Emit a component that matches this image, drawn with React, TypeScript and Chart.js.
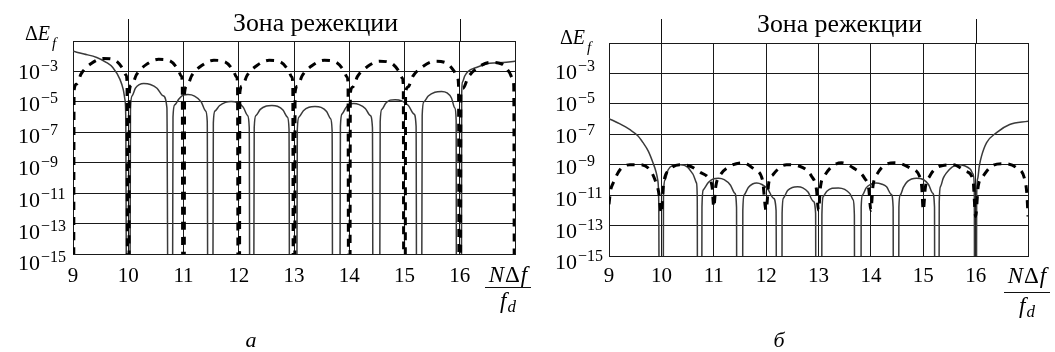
import React, { useEffect, useRef } from "react";
import { Chart, registerables } from "chart.js";

Chart.register(...registerables);

const FLOOR = 1e-20;
const SERIF = '"Liberation Serif", "Times New Roman", serif';

const xTicks = [9, 10, 11, 12, 13, 14, 15, 16];
const yTickExponents = [-3, -5, -7, -9, -11, -13, -15];
const yGridValues = [1e-15, 1e-13, 1e-11, 1e-9, 1e-7, 1e-5, 1e-3, 1e-1];
const zoneBounds = [10, 16];
const zoneTitle = "Зона режекции";
const panelLabels = ["а", "б"];

// ---------- panel а : solid curve ----------
const aSolidX = [
  9.0, 9.2, 9.43, 9.6, 9.72, 9.85, 9.91, 9.94, 9.955, 9.97,
  10.03, 10.04, 10.07, 10.13, 10.2, 10.28, 10.4, 10.52, 10.63, 10.7, 10.72,
  10.8, 10.81, 10.84, 10.92, 11.0, 11.08, 11.2, 11.32, 11.4, 11.43, 11.44,
  11.53, 11.54, 11.57, 11.65, 11.76, 11.86, 11.97, 12.08, 12.16, 12.19, 12.2,
  12.27, 12.28, 12.31, 12.39, 12.5, 12.6, 12.7, 12.8, 12.88, 12.91, 12.92,
  13.05, 13.06, 13.09, 13.17, 13.27, 13.38, 13.49, 13.59, 13.66, 13.69, 13.7,
  13.83, 13.84, 13.87, 13.94, 14.0, 14.08, 14.18, 14.29, 14.38, 14.42, 14.43,
  14.55, 14.56, 14.59, 14.66, 14.74, 14.83, 14.95, 15.07, 15.17, 15.21, 15.22,
  15.31, 15.32, 15.35, 15.43, 15.55, 15.67, 15.77, 15.85, 15.91, 15.935, 15.94,
  16.03, 16.035, 16.05, 16.09, 16.15, 16.3, 16.54, 16.78, 17.0,
];
const aSolidY = [
  2.1e-2, 1.4e-2, 8.3e-3, 4e-3, 1.8e-3, 3e-4, 6.3e-5, 1.4e-5, 1e-6, FLOOR,
  FLOOR, 3.2e-6, 2.5e-5, 7.9e-5, 1.35e-4, 1.6e-4, 1.4e-4, 7.9e-5, 2.5e-5, 4e-6, FLOOR,
  FLOOR, 1e-6, 6.3e-6, 1.6e-5, 2.8e-5, 3e-5, 2.4e-5, 1e-5, 2.5e-6, 5e-7, FLOOR,
  FLOOR, 4e-7, 2.5e-6, 5.5e-6, 9.3e-6, 1.05e-5, 9e-6, 4.5e-6, 1.26e-6, 2e-7, FLOOR,
  FLOOR, 2e-7, 1.26e-6, 3.2e-6, 5.3e-6, 5.8e-6, 5.1e-6, 2.9e-6, 1e-6, 1.6e-7, FLOOR,
  FLOOR, 1.6e-7, 1e-6, 2.6e-6, 4.4e-6, 4.9e-6, 4.3e-6, 2.3e-6, 8e-7, 1.26e-7, FLOOR,
  FLOOR, 2.5e-7, 1.6e-6, 4.2e-6, 6.9e-6, 7.8e-6, 6.6e-6, 3.7e-6, 1.26e-6, 2e-7, FLOOR,
  FLOOR, 5e-7, 3.2e-6, 8e-6, 1.3e-5, 1.4e-5, 1.15e-5, 5.8e-6, 1.6e-6, 2.5e-7, FLOOR,
  FLOOR, 1.26e-6, 1e-5, 2.4e-5, 4.3e-5, 4.8e-5, 3.9e-5, 1.8e-5, 4e-6, 6.3e-7, FLOOR,
  FLOOR, 3.2e-5, 2e-4, 5e-4, 1e-3, 1.8e-3, 3.4e-3, 3.9e-3, 4.6e-3,
];

// ---------- panel а : dashed curve ----------
const aDashX = [
  9.012, 9.02, 9.06, 9.15, 9.33, 9.55, 9.75, 9.9, 9.96, 9.978, 9.988,
  10.012, 10.02, 10.06, 10.15, 10.33, 10.55, 10.75, 10.9, 10.96, 10.978, 10.988,
  11.012, 11.02, 11.06, 11.15, 11.33, 11.55, 11.75, 11.9, 11.96, 11.978, 11.988,
  12.012, 12.02, 12.06, 12.15, 12.33, 12.55, 12.75, 12.9, 12.96, 12.978, 12.988,
  13.012, 13.02, 13.06, 13.15, 13.33, 13.55, 13.75, 13.9, 13.96, 13.978, 13.988,
  14.012, 14.02, 14.06, 14.15, 14.33, 14.55, 14.75, 14.9, 14.96, 14.978, 14.988,
  15.012, 15.02, 15.06, 15.15, 15.33, 15.55, 15.75, 15.9, 15.96, 15.978, 15.988,
  16.012, 16.02, 16.06, 16.15, 16.33, 16.55, 16.75, 16.9, 16.96, 16.978, 16.988,
];
const aDashY = [
  FLOOR, 5.8e-5, 1.45e-4, 7.2e-4, 3.3e-3, 7.2e-3, 5.8e-3, 1.55e-3, 5.8e-4, 1.8e-4, FLOOR,
  FLOOR, 5e-5, 1.26e-4, 6.3e-4, 2.9e-3, 6.3e-3, 5e-3, 1.35e-3, 5e-4, 1.6e-4, FLOOR,
  FLOOR, 4.3e-5, 1.07e-4, 5.4e-4, 2.45e-3, 5.4e-3, 4.3e-3, 1.15e-3, 4.3e-4, 1.35e-4, FLOOR,
  FLOOR, 4.3e-5, 1.07e-4, 5.4e-4, 2.45e-3, 5.4e-3, 4.3e-3, 1.15e-3, 4.3e-4, 1.35e-4, FLOOR,
  FLOOR, 4.3e-5, 1.07e-4, 5.4e-4, 2.45e-3, 5.4e-3, 4.3e-3, 1.15e-3, 4.3e-4, 1.35e-4, FLOOR,
  FLOOR, 3.7e-5, 9.3e-5, 4.7e-4, 2.1e-3, 4.7e-3, 3.7e-3, 1e-3, 3.7e-4, 1.17e-4, FLOOR,
  FLOOR, 3.7e-5, 9.3e-5, 4.7e-4, 2.1e-3, 4.7e-3, 3.7e-3, 1e-3, 3.7e-4, 1.17e-4, FLOOR,
  FLOOR, 3.2e-5, 7.9e-5, 4e-4, 1.8e-3, 4e-3, 3.2e-3, 8.5e-4, 3.2e-4, 1e-4, FLOOR,
];

// ---------- panel б : solid curve ----------
const bSolidX = [
  9.0, 9.2, 9.4, 9.55, 9.65, 9.75, 9.84, 9.9, 9.93, 9.95, 9.96,
  10.035, 10.04, 10.07, 10.13, 10.22, 10.37, 10.5, 10.6, 10.67, 10.685, 10.69,
  10.77, 10.775, 10.8, 10.9, 11.0, 11.09, 11.2, 11.32, 11.4, 11.435, 11.44,
  11.55, 11.555, 11.58, 11.66, 11.74, 11.82, 11.92, 12.03, 12.14, 12.19, 12.2,
  12.3, 12.305, 12.33, 12.41, 12.5, 12.6, 12.7, 12.8, 12.9, 12.945, 12.95,
  13.06, 13.065, 13.09, 13.16, 13.26, 13.38, 13.5, 13.6, 13.66, 13.685, 13.69,
  13.81, 13.815, 13.84, 13.91, 14.0, 14.1, 14.2, 14.3, 14.39, 14.425, 14.43,
  14.53, 14.535, 14.56, 14.62, 14.7, 14.87, 15.0, 15.1, 15.18, 15.215, 15.22,
  15.3, 15.305, 15.33, 15.38, 15.44, 15.55, 15.66, 15.8, 15.9, 15.95, 15.975, 15.98,
  16.015, 16.02, 16.04, 16.07, 16.11, 16.21, 16.4, 16.65, 17.0,
];
const bSolidY = [
  1.07e-6, 5e-7, 2e-7, 8e-8, 2.8e-8, 7.9e-9, 1.35e-9, 3.2e-10, 1e-10, 3e-12, FLOOR,
  FLOOR, 1e-11, 1e-10, 4.7e-10, 8.9e-10, 1e-9, 7e-10, 2.5e-10, 6.3e-11, 6.3e-12, FLOOR,
  FLOOR, 1.6e-12, 2.2e-11, 7e-11, 1.2e-10, 1.3e-10, 1.05e-10, 4.5e-11, 1.35e-11, 1.6e-12, FLOOR,
  FLOOR, 1e-12, 1e-11, 3.2e-11, 5.4e-11, 6.3e-11, 5e-11, 2.5e-11, 6.3e-12, 1e-12, FLOOR,
  FLOOR, 6.3e-13, 6.3e-12, 2e-11, 3.2e-11, 3.5e-11, 3e-11, 1.6e-11, 4e-12, 6.3e-13, FLOOR,
  FLOOR, 5e-13, 8e-12, 1.8e-11, 2.8e-11, 3e-11, 2.4e-11, 1.26e-11, 5e-12, 5e-13, FLOOR,
  FLOOR, 1.6e-12, 1e-11, 3e-11, 5.2e-11, 6.3e-11, 5.4e-11, 3.5e-11, 1.1e-11, 1.6e-12, FLOOR,
  FLOOR, 1.6e-12, 1e-11, 3.2e-11, 8e-11, 1.3e-10, 1.07e-10, 5e-11, 1.35e-11, 1.6e-12, FLOOR,
  FLOOR, 3.2e-12, 3.7e-11, 1.26e-10, 2.8e-10, 7e-10, 1e-9, 8.3e-10, 5e-10, 2.5e-10, 3.2e-11, FLOOR,
  FLOOR, 1e-11, 1.26e-10, 8e-10, 3.4e-9, 2.8e-8, 1.3e-7, 4.4e-7, 7.2e-7,
];

// ---------- panel б : dashed curve ----------
const bDashX = [
  9.0, 9.03, 9.08, 9.21, 9.4, 9.59, 9.78, 9.88, 9.95,
  10.0, 10.04, 10.16, 10.35, 10.55, 10.74, 10.9, 10.97,
  11.0, 11.04, 11.12, 11.31, 11.56, 11.78, 11.93,
  12.0, 12.05, 12.13, 12.39, 12.64, 12.87, 12.96,
  13.0, 13.04, 13.12, 13.44, 13.66, 13.88, 13.96,
  14.0, 14.04, 14.12, 14.46, 14.74, 14.93, 14.97,
  15.0, 15.04, 15.12, 15.31, 15.57, 15.82, 15.95,
  16.0, 16.05, 16.14, 16.3, 16.52, 16.78, 16.94, 16.98, 17.0,
];
const bDashY = [
  2.5e-12, 2e-11, 6.3e-11, 4.7e-10, 1e-9, 1e-9, 4.7e-10, 1e-10, 1.45e-11,
  6.3e-13, 5e-11, 4.7e-10, 1e-9, 7.9e-10, 3.2e-10, 1.3e-10, 3.2e-11,
  1.6e-12, 4e-11, 2e-10, 7.9e-10, 1.35e-9, 4.7e-10, 1e-10,
  1e-12, 6.3e-11, 2.2e-10, 1e-9, 7.9e-10, 1.7e-10, 2.5e-11,
  1e-12, 4e-11, 2e-10, 1.35e-9, 6.3e-10, 1.3e-10, 2.5e-11,
  1e-12, 4e-11, 2.5e-10, 1.35e-9, 6.3e-10, 1.7e-10, 4e-11,
  1e-12, 3.2e-11, 1.7e-10, 7.9e-10, 1e-9, 3.6e-10, 1e-10,
  4e-13, 4e-11, 1.7e-10, 7.9e-10, 1.17e-9, 6.3e-10, 1e-10, 1e-11, 4e-13,
];

type Run = { text: string; font: string; dx?: number; dy?: number };

function runsWidth(ctx: CanvasRenderingContext2D, runs: Run[]) {
  let w = 0;
  for (const r of runs) {
    ctx.font = r.font;
    w += ctx.measureText(r.text).width + (r.dx || 0);
  }
  return w;
}
function drawRuns(ctx: CanvasRenderingContext2D, runs: Run[], x: number, y: number) {
  let cx = x;
  for (const r of runs) {
    ctx.font = r.font;
    cx += r.dx || 0;
    ctx.fillText(r.text, cx, y + (r.dy || 0));
    cx += ctx.measureText(r.text).width;
  }
}

type PanelLayout = {
  left: number;
  width: number;
  pad: { left: number; top: number; right: number; bottom: number };
  yLabelX: number;
  yOffBase: number;
  yOffStep: number;
  xLabelBase: number;
  deltaX: number;
  deltaBase: number;
  fracX: number;
  fracW: number;
  fracTop: number;
  fracLineY: number;
  fracBottom: number;
  titleX: number;
  titleW: number;
  titleBase: number;
  zoneTop: number;
  subX: number;
  subBase: number;
};

const layoutA: PanelLayout = {
  left: 0, width: 535,
  pad: { left: 73, top: 41, right: 20, bottom: 98 },
  yLabelX: 18, yOffBase: 8, yOffStep: 1.4, xLabelBase: 282,
  deltaX: 25, deltaBase: 40,
  fracX: 485, fracW: 46, fracTop: 282, fracLineY: 287, fracBottom: 308,
  titleX: 233, titleW: 165, titleBase: 31, zoneTop: 19,
  subX: 251, subBase: 347,
};
const layoutB: PanelLayout = {
  left: 535, width: 520,
  pad: { left: 74, top: 43, right: 27, bottom: 96 },
  yLabelX: 20, yOffBase: 6, yOffStep: 1.2, xLabelBase: 282,
  deltaX: 25, deltaBase: 44,
  fracX: 469, fracW: 46, fracTop: 283, fracLineY: 292, fracBottom: 313,
  titleX: 222, titleW: 165, titleBase: 32, zoneTop: 19,
  subX: 244, subBase: 347,
};

function makeOverlay(p: PanelLayout, subLabel: string) {
  return {
    id: "overlay",
    afterDraw(chart: any) {
      const ctx: CanvasRenderingContext2D = chart.ctx;
      const ca = chart.chartArea;
      const xs = chart.scales.x;
      const ys = chart.scales.y;
      ctx.save();
      ctx.fillStyle = "#000";
      ctx.strokeStyle = "#111";
      ctx.lineWidth = 1;
      ctx.textBaseline = "alphabetic";

      for (const v of zoneBounds) {
        const px = Math.round(xs.getPixelForValue(v)) + 0.5;
        ctx.beginPath();
        ctx.moveTo(px, p.zoneTop);
        ctx.lineTo(px, ca.top);
        ctx.stroke();
      }

      ctx.textAlign = "left";
      ctx.font = `20px ${SERIF}`;
      const w20 = ctx.measureText(zoneTitle).width;
      const fs = (20 * p.titleW) / w20;
      ctx.font = `${fs}px ${SERIF}`;
      ctx.fillText(zoneTitle, p.titleX, p.titleBase);

      yTickExponents.forEach((e, i) => {
        const gy = ys.getPixelForValue(Math.pow(10, e));
        const base = gy + p.yOffBase + p.yOffStep * i;
        ctx.font = `22px ${SERIF}`;
        ctx.fillText("10", p.yLabelX, base);
        const w = ctx.measureText("10").width;
        ctx.font = `16px ${SERIF}`;
        ctx.fillText("\u2212" + String(-e), p.yLabelX + w + 1, base - 8);
      });

      ctx.textAlign = "center";
      ctx.font = `21px ${SERIF}`;
      for (const v of xTicks) {
        ctx.fillText(String(v), xs.getPixelForValue(v), p.xLabelBase);
      }
      ctx.textAlign = "left";

      drawRuns(
        ctx,
        [
          { text: "\u0394", font: `20px ${SERIF}` },
          { text: "E", font: `italic 20px ${SERIF}` },
          { text: "f", font: `italic 15px ${SERIF}`, dx: 2, dy: 8 },
        ],
        p.deltaX,
        p.deltaBase
      );

      const top: Run[] = [
        { text: "N", font: `italic 23px ${SERIF}` },
        { text: "\u0394", font: `23px ${SERIF}`, dx: 1 },
        { text: "f", font: `italic 23px ${SERIF}`, dx: 1 },
      ];
      const tw = runsWidth(ctx, top);
      drawRuns(ctx, top, p.fracX + (p.fracW - tw) / 2, p.fracTop);
      ctx.beginPath();
      ctx.moveTo(p.fracX, p.fracLineY + 0.5);
      ctx.lineTo(p.fracX + p.fracW, p.fracLineY + 0.5);
      ctx.stroke();
      const bot: Run[] = [
        { text: "f", font: `italic 23px ${SERIF}` },
        { text: "d", font: `italic 17px ${SERIF}`, dx: 1, dy: 4 },
      ];
      const bw = runsWidth(ctx, bot);
      drawRuns(ctx, bot, p.fracX + (p.fracW - bw) / 2, p.fracBottom);

      ctx.textAlign = "center";
      ctx.font = `italic 22px ${SERIF}`;
      ctx.fillText(subLabel, p.subX, p.subBase);
      ctx.restore();
    },
  };
}

function toPoints(xs: number[], ys: number[]) {
  return xs.map((x, i) => ({ x, y: ys[i] }));
}

function Panel({
  layout,
  solidX,
  solidY,
  dashX,
  dashY,
  label,
}: {
  layout: PanelLayout;
  solidX: number[];
  solidY: number[];
  dashX: number[];
  dashY: number[];
  label: string;
}) {
  const ref = useRef<HTMLCanvasElement | null>(null);
  useEffect(() => {
    if (!ref.current) return;
    const gridColor = "#1a1a1a";
    const chart = new Chart(ref.current, {
      type: "line",
      data: {
        datasets: [
          {
            data: toPoints(dashX, dashY),
            borderColor: "#000",
            borderWidth: 3,
            borderDash: [8, 7],
            borderCapStyle: "butt",
            pointRadius: 0,
            fill: false,
            cubicInterpolationMode: "monotone",
            clip: 0,
          } as any,
          {
            data: toPoints(solidX, solidY),
            borderColor: "#3a3a3a",
            borderWidth: 1.5,
            pointRadius: 0,
            fill: false,
            cubicInterpolationMode: "monotone",
            clip: 0,
          } as any,
        ],
      },
      options: {
        animation: false,
        responsive: false,
        maintainAspectRatio: false,
        events: [],
        layout: { padding: layout.pad },
        plugins: { legend: { display: false }, tooltip: { enabled: false }, title: { display: false } },
        scales: {
          x: {
            type: "linear",
            min: 9,
            max: 17,
            ticks: { display: false, stepSize: 1 },
            grid: { color: gridColor, lineWidth: 1, drawTicks: false },
            border: { display: true, color: gridColor, width: 1 },
          },
          y: {
            type: "logarithmic",
            min: 1e-15,
            max: 1e-1,
            ticks: { display: false },
            afterBuildTicks: (s: any) => {
              s.ticks = yGridValues.map((v) => ({ value: v }));
            },
            grid: { color: gridColor, lineWidth: 1, drawTicks: false },
            border: { display: true, color: gridColor, width: 1 },
          },
        },
      } as any,
      plugins: [makeOverlay(layout, label)],
    });
    return () => chart.destroy();
  }, []);
  return (
    <canvas
      ref={ref}
      width={layout.width}
      height={352}
      style={{ position: "absolute", left: layout.left, top: 0, width: layout.width, height: 352 }}
    />
  );
}

export default function App() {
  return (
    <div style={{ position: "fixed", left: 0, top: 0, width: 1055, height: 352, background: "#fff" }}>
      <Panel layout={layoutA} solidX={aSolidX} solidY={aSolidY} dashX={aDashX} dashY={aDashY} label={panelLabels[0]} />
      <Panel layout={layoutB} solidX={bSolidX} solidY={bSolidY} dashX={bDashX} dashY={bDashY} label={panelLabels[1]} />
    </div>
  );
}
